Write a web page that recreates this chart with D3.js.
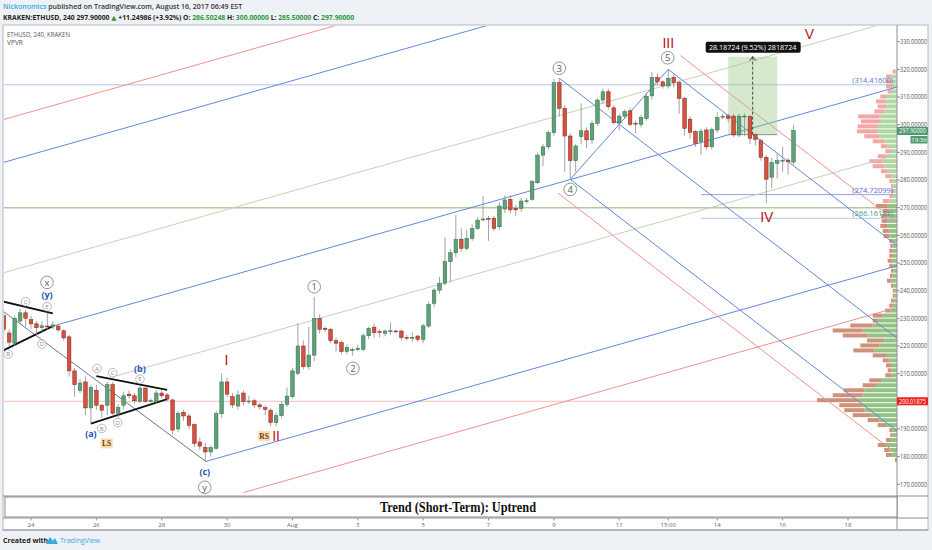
<!DOCTYPE html>
<html>
<head>
<meta charset="utf-8">
<script src="https://cdn.jsdelivr.net/npm/d3@7"></script>
<style>
  body { margin: 0; background: #eef1f5; }
</style>
</head>
<body>
<script>
// 4h candles, first one starts Jul 23 04:00
var candleStart = Date.UTC(2017, 6, 23, 4);
var H4 = 4 * 3600 * 1000;

var opens  = [231,224.7,221,229,232,229.5,228,226.6,227.2,226.9,227.2,225.5,223.3,211,204,207,197.6,204,198.6,198.6,206,195.7,198.6,202.6,202,200,204.8,200.2,200,203,202.3,200.5,190,196,194.7,191.6,185.3,183.3,181.7,183,195.5,207,201.7,198.3,203,200,200.2,198.7,197.7,196.8,192.3,194.8,198.9,201.7,210.1,220,212.5,216.7,230,226.4,226,221.9,221.2,218,218.6,218.7,218.8,223.7,226.8,225.2,224.6,225.4,225.4,225.4,223.1,223,223.6,222.4,227.2,235.4,240.2,242.7,250.5,253.7,258.6,255.3,258.9,262.5,265.8,266.1,266.2,263.1,269.5,273,269.8,269.8,272.4,273,279,289,292,297.1,315.2,305.9,295.9,287,295.7,297.8,294.5,300.5,308.9,311.9,306.1,300.7,303.1,305,300.5,300.1,302.3,310.4,317.1,315.5,314,317.1,315.2,309.5,302,297.5,293.9,298.1,292,298.1,302.9,303.2,303.1,296.3,303,302.9,296.3,294.2,288.2,281,286,287,287.2,286.5];
var highs  = [232.5,226,231,233.5,233,231,229,229,232,229,228,226,224,212,208,209,206,206,199,207,207,199,203.5,204,203,205.5,205,201,204,204,203,201,196.5,197,195.5,192,187,185,184,196.5,210.2,208.5,203,204,204,202,201,199.5,198.5,197.5,196,200,205,212,228.2,222,227,237.8,231.5,227,226.5,223,222,220.5,219.5,220.5,224.5,227,228,226,226,228.5,226,226,224,225,224,228,236,241,245,259.3,255,267.3,262.5,262,264,266.5,274.2,267,267,272,274.5,274.5,271,273.5,273.5,280,290,293,298,316.5,316.8,307,297,293,307.7,299,301.5,309.5,313,313,307,304,305.5,306,301.5,303.5,311.5,319,318.5,316,320,318.5,316,310,303,298,298.5,299,299,304.5,304,304,304,304,304,303.5,297,295,289,288,289.5,292,288,300];
var lows   = [224,220,220,228,227,226,224,225,226,226,225,222,208.9,201.7,203,195,192,197,194,195,195,194,197,201,199,199.5,199.5,199.5,199,201,200,188,189,193,190,183.5,182.5,178.4,180,182.5,194,201.5,197.5,197,198.5,199,197.5,197,195,191,191,194,198,201,209.5,211.5,211.5,214.5,224.5,225,221,218,217,217,216.5,218,218,222.5,223,223,223.5,224,224.5,222,222,221.5,221.5,221,226.5,234,239,242,243,252,254,254.5,258,262,265,258,261.5,262,268,268,267,268.5,271.5,272.5,278.5,285,291,296,303,283,280.5,283,293,291.5,293,299.5,307.5,305.5,300,298,302,299.5,297,299,301.5,309,314,313,313,313.5,304,296,295,292,289,291,291,297,302,301,295.5,295.5,296,293,292.5,287,271.6,277,280.5,283,282,285.5];
var closes = [226,221.4,230,232,230,228,226.6,227.3,227,227.6,225.8,222.9,211,206,206.6,197.6,205,198.6,196.8,206,195.7,197.8,202,202,200.2,204.8,200,200.3,203,202,200.8,189.6,195.7,194.7,191.3,184.8,183.8,181.7,183.3,195.6,207,202.6,198.7,202.3,199.9,200.1,198.7,198,197.1,192.3,194.8,198.9,201.9,211,220,212.5,216.7,230,226,226,221.9,221,218,219.5,218.7,219.2,223.7,226.4,224.8,225.1,225.4,225.5,225.3,223,223,223.1,222.4,227.3,235,240.2,242.7,250.5,253.7,258.6,255.3,258.9,262.5,265.5,265.9,265.9,262.5,270.6,272.8,269.2,269.2,272.4,272.5,279.4,289,292,297.1,315.2,305.9,295.9,287,292.3,297.8,294.5,300.5,308.9,311.9,306.5,300.7,303.1,304.7,300.1,300.4,302.6,310.3,317.1,315.5,314,316.8,315.2,309.5,298.7,297.2,293.3,297.7,292,298.3,302.6,303,302.3,296.3,303.1,303.1,295.1,294.7,288.2,280.3,286.3,287,287.1,286.6,297.9];

// axes
var priceTicks = [170,180,190,200,210,220,230,240,250,260,270,280,290,300,310,320,330];
var timeTicks = [Date.UTC(2017,6,24), Date.UTC(2017,6,26), Date.UTC(2017,6,28), Date.UTC(2017,6,30),
                 Date.UTC(2017,7,1), Date.UTC(2017,7,3), Date.UTC(2017,7,5), Date.UTC(2017,7,7),
                 Date.UTC(2017,7,9), Date.UTC(2017,7,11), Date.UTC(2017,7,12,12), Date.UTC(2017,7,14),
                 Date.UTC(2017,7,16), Date.UTC(2017,7,18)];
var timeLabels = ["24","26","28","30","Aug","3","5","7","9","11","15:00","14","16","18"];

// volume profile (VPVR), rows of 1.8 from 177.9
var vpLow = 177.9, vpRow = 1.8;
var vpUp   = [1,6,7.7,11,6,4.3,4.3,11,17.7,26,32.7,34.3,39.3,34.3,32.7,21,16,6,5.3,6,7.7,11,22.7,17.7,12.7,29.3,34.3,24.3,19.3,14.3,6.7,4.3,3.3,2.7,2.7,3.3,5.3,4.3,3.3,4.3,4.3,4.3,4.3,4.3,4.3,7.7,7.7,9.3,9.3,9.3,7.7,9.3,7.7,4.3,3.3,3.3,4.3,6,9.3,12.7,14.3,11,6,9.3,12.7,17.7,19.3,19.3,16,17.7,12.7,11,12,11,5,5,5.3,6,1.5];
var vpDown = [1,5,5,8.3,5,2.4,3.4,8.3,11.6,18.3,20,23.4,40.7,30,20.6,13.3,11.7,5.7,4,5,6.6,13.3,21,19,17.3,25,30,22.4,5,10,5,3.4,2.7,1.6,1.6,2.7,4.7,2.7,2.7,3.4,5,3.4,3.4,2.4,3.4,5.6,6.6,7.4,6,6.7,6.6,11.7,6.6,3.4,2.7,2.7,3.4,5.7,6.7,11.6,13.4,8.3,5.7,6.7,11.6,15,20.7,20,20,21,10,8.3,9,5.7,4.3,6,5.7,5,2.8];
var vpValueAreaTop = 273;

// ascending pitchfork: median anchor points [candle index, price] and level offsets
var upMedian = [[9, 227.2], [150, 305.8]];
var upLevels  = [79.7, 64.2, 24.3, 0, -24.5, -64.6, -79.7];
var upStarts  = [-3, -3, -3, 9, 20, 37, 44];
var upColors  = ["#f29090", "#6088da", "#c6d2b8", "#6088da", "#c6d2b8", "#6088da", "#f29090"];

// descending pitchfork from waves 3, 4, 5
var fork3 = [102, 316.8], fork4 = [104, 280.25], fork5 = [122, 320];

// trend lines [[index, price], [index, price]]
var blackLines = [
  [[0, 236.0], [9, 231.8]], [[0, 218.5], [9, 227.2]],
  [[17, 209.1], [30, 204.1]], [[16, 191.9], [30, 200.8]]
];
var grayLine = [[0, 232.4], [37, 178.4]];

// horizontal levels
var hLevels = [
  {p: 314.416, from: -3, color: "#b7c0ee", w: 1, label: "(314.41600)", lc: "#5a74d0"},
  {p: 270.0, from: -3, color: "#b9c6a2", w: 1.6},
  {p: 200.01875, from: -3, color: "#f7bcbc", w: 1},
  {p: 274.72099, from: 128, color: "#95a3f0", w: 1, label: "(274.72099)", lc: "#5a62d8"},
  {p: 266.16188, from: 128, color: "#b4cde0", w: 1, label: "(266.16188)", lc: "#3c9aa4"}
];

// measure tool
var measure = {from: 133, to: 142, low: 296.4, high: 324.6, text: "28.18724 (9.52%) 2818724"};

// wave labels [index, price, text, style]
var waveLabels = [
  [7.94, 243.0, "x", "circ"], [7.94, 238.6, "(y)", "blue"], [4.0, 236.0, "C", "small"],
  [7.94, 234.2, "E", "small"], [0.8, 217.1, "B", "small"], [7.0, 220.7, "D", "small"],
  [17.1, 211.9, "A", "small"], [20.0, 210.3, "C", "small"], [25.0, 211.6, "(b)", "blue"],
  [25.0, 208.0, "E", "small"], [18.0, 190.2, "B", "small"], [20.9, 192.3, "D", "small"],
  [16.0, 188.2, "(a)", "blue"], [36.9, 174.5, "(c)", "blue"], [36.9, 168.9, "y", "circ"],
  [57.0, 241.4, "1", "circ"], [64.1, 211.9, "2", "circ"], [102.0, 320.4, "3", "circ"],
  [104.0, 276.6, "4", "circ"], [121.9, 324.2, "5", "circ"],
  [40.9, 214.9, "I", "red"], [50.0, 187.5, "II", "red"], [122.0, 329.6, "III", "red"],
  [140.1, 266.7, "IV", "red"], [147.9, 332.8, "V", "red"],
  [18.9, 184.8, "LS", "box"], [47.8, 187.5, "RS", "box"]
];

var W = 932, Hh = 550;
var plotL = 4, plotR = 897, plotT = 26, plotB = 496;
var sans = "'Open Sans', 'DejaVu Sans', sans-serif";

var svg = d3.select("body").append("svg").attr("width", W).attr("height", Hh)
  .attr("font-family", sans);
svg.append("rect").attr("width", W).attr("height", Hh).attr("fill", "#eef1f5");

// frame
svg.append("rect").attr("x", 3).attr("y", 25).attr("width", 925).attr("height", 505)
  .attr("fill", "#fff").attr("stroke", "#b4b8bf");

var x = d3.scaleUtc()
  .domain([new Date(Date.UTC(2017, 6, 24)), new Date(Date.UTC(2017, 7, 18))])
  .range([31, 848]);
var y = d3.scaleLinear().domain([170, 330]).range([484.3, 41.7]);
var tOf = function(i) { return new Date(candleStart + i * H4); };
var X = function(i) { return x(tOf(i)); };

svg.append("defs").append("clipPath").attr("id", "plotclip")
  .append("rect").attr("x", plotL).attr("y", plotT).attr("width", plotR - plotL).attr("height", plotB - plotT);

var plot = svg.append("g").attr("clip-path", "url(#plotclip)");
var line = d3.line().x(function(d) { return X(d[0]); }).y(function(d) { return y(d[1]); });

// horizontal levels
hLevels.forEach(function(h) {
  plot.append("path").attr("d", line([[h.from, h.p], [170, h.p]]))
    .attr("stroke", h.color).attr("stroke-width", h.w).attr("fill", "none");
});

// volume profile
var vx = d3.scaleLinear().domain([0, 80]).range([0, 80]);
vpUp.forEach(function(u, k) {
  var lo = vpLow + k * vpRow, hi = lo + vpRow;
  var inVA = hi <= vpValueAreaTop;
  var y0 = y(hi) + 0.5, hgt = y(lo) - y(hi) - 1;
  plot.append("rect").attr("x", plotR - vx(u)).attr("y", y0).attr("width", vx(u)).attr("height", hgt)
    .attr("fill", inVA ? "#88bb77" : "#a9d399").attr("opacity", 0.9);
  plot.append("rect").attr("x", plotR - vx(u) - vx(vpDown[k])).attr("y", y0).attr("width", vx(vpDown[k])).attr("height", hgt)
    .attr("fill", inVA ? "#c8866a" : "#f29c9c").attr("opacity", 0.9);
});

// ascending pitchfork
var upSlope = (upMedian[1][1] - upMedian[0][1]) / (upMedian[1][0] - upMedian[0][0]);
upLevels.forEach(function(off, k) {
  var a = upStarts[k], b = 175;
  var pA = upMedian[0][1] + (a - upMedian[0][0]) * upSlope + off;
  var pB = upMedian[0][1] + (b - upMedian[0][0]) * upSlope + off;
  plot.append("path").attr("d", line([[a, pA], [b, pB]]))
    .attr("stroke", upColors[k]).attr("stroke-width", 1).attr("fill", "none");
});

// descending pitchfork
var midI = (fork4[0] + fork5[0]) / 2, midP = (fork4[1] + fork5[1]) / 2;
var dnSlope = (midP - fork3[1]) / (midI - fork3[0]);
var dnLevels = [{l: 0, c: "#6088da"}, {l: 1, c: "#6088da"}, {l: -1, c: "#6088da"}, {l: 1.25, c: "#f29090"}, {l: -1.25, c: "#f29090"}];
dnLevels.forEach(function(lv) {
  var s, i0, p0;
  if (lv.l === 0) { i0 = fork3[0]; p0 = fork3[1]; }
  else {
    s = (lv.l + 1) / 2;
    i0 = fork4[0] + s * (fork5[0] - fork4[0]);
    p0 = fork4[1] + s * (fork5[1] - fork4[1]);
  }
  plot.append("path").attr("d", line([[i0, p0], [175, p0 + (175 - i0) * dnSlope]]))
    .attr("stroke", lv.c).attr("stroke-width", 1).attr("fill", "none");
});
plot.append("path").attr("d", line([fork4, fork5])).attr("stroke", "#6088da").attr("stroke-width", 1).attr("fill", "none");

// trend lines
plot.append("path").attr("d", line(grayLine)).attr("stroke", "#6f7880").attr("stroke-width", 1).attr("fill", "none");
blackLines.forEach(function(l) {
  plot.append("path").attr("d", line(l)).attr("stroke", "#111").attr("stroke-width", 1.8).attr("fill", "none");
});

// measure tool
plot.append("rect").attr("x", X(measure.from)).attr("y", y(measure.high))
  .attr("width", X(measure.to) - X(measure.from)).attr("height", y(measure.low) - y(measure.high))
  .attr("fill", "#9cc97f").attr("opacity", 0.4);
plot.append("path").attr("d", line([[measure.from, measure.low], [measure.to, measure.low]]))
  .attr("stroke", "#8a8f8a").attr("fill", "none");
var mx = X((measure.from + measure.to) / 2);
plot.append("line").attr("x1", mx).attr("x2", mx).attr("y1", y(measure.low)).attr("y2", y(measure.high))
  .attr("stroke", "#444").attr("stroke-dasharray", "3,2");
plot.append("path").attr("d", "M" + (mx - 3) + "," + (y(measure.high) + 4) + "L" + mx + "," + y(measure.high) + "L" + (mx + 3) + "," + (y(measure.high) + 4))
  .attr("stroke", "#444").attr("fill", "none");
plot.append("rect").attr("x", mx - 47).attr("y", y(measure.high) - 15).attr("width", 95).attr("height", 11)
  .attr("rx", 2).attr("fill", "#111");
plot.append("text").attr("x", mx).attr("y", y(measure.high) - 7).attr("text-anchor", "middle")
  .attr("font-size", 7.2).attr("fill", "#fff").text(measure.text);

// candles
var cg = plot.append("g");
opens.forEach(function(o, i) {
  var up = closes[i] >= o, cx = X(i);
  cg.append("line").attr("x1", cx).attr("x2", cx).attr("y1", y(highs[i])).attr("y2", y(lows[i]))
    .attr("stroke", "#8a8c90").attr("stroke-width", 0.8);
  var yt = y(Math.max(o, closes[i])), yb = y(Math.min(o, closes[i]));
  cg.append("rect").attr("x", cx - 1.8).attr("y", yt).attr("width", 3.6).attr("height", Math.max(yb - yt, 0.8))
    .attr("fill", up ? "#5ea279" : "#d6513f").attr("stroke", up ? "#2f6b46" : "#7d2418").attr("stroke-width", 0.5);
});

// level labels
hLevels.forEach(function(h) {
  if (!h.label) return;
  plot.append("text").attr("x", 893).attr("y", y(h.p) - 2).attr("text-anchor", "end")
    .attr("font-size", 7.5).attr("fill", h.lc).text(h.label);
});

// wave labels
waveLabels.forEach(function(w) {
  var cx = X(w[0]), cy = y(w[1]);
  if (w[3] === "circ") {
    plot.append("circle").attr("cx", cx).attr("cy", cy).attr("r", 6.3).attr("fill", "#fff")
      .attr("fill-opacity", 0.6).attr("stroke", "#7d8c7a").attr("stroke-width", 0.9);
    plot.append("text").attr("x", cx).attr("y", cy + 3.4).attr("text-anchor", "middle")
      .attr("font-size", 9.5).attr("fill", "#55624f").text(w[2]);
  } else if (w[3] === "small") {
    plot.append("circle").attr("cx", cx).attr("cy", cy).attr("r", 4.3).attr("fill", "#fff")
      .attr("fill-opacity", 0.6).attr("stroke", "#9a9e98").attr("stroke-width", 0.7);
    plot.append("text").attr("x", cx).attr("y", cy + 2.2).attr("text-anchor", "middle")
      .attr("font-size", 6).attr("fill", "#8a8f88").text(w[2]);
  } else if (w[3] === "blue") {
    plot.append("text").attr("x", cx).attr("y", cy + 3.2).attr("text-anchor", "middle")
      .attr("font-size", 9).attr("font-weight", "bold").attr("fill", "#2456b0").text(w[2]);
  } else if (w[3] === "red") {
    plot.append("text").attr("x", cx).attr("y", cy + 5).attr("text-anchor", "middle")
      .attr("font-family", "'Liberation Sans', Arial, sans-serif")
      .attr("font-size", 14).attr("fill", "#b3141c").text(w[2]);
  } else {
    plot.append("rect").attr("x", cx - 6).attr("y", cy - 5).attr("width", 12).attr("height", 10).attr("fill", "#fbdcb0");
    plot.append("text").attr("x", cx).attr("y", cy + 2.8).attr("text-anchor", "middle")
      .attr("font-family", "'Liberation Serif', serif").attr("font-weight", "bold")
      .attr("font-size", 7.5).attr("fill", "#6a3a10").text(w[2]);
  }
});

// legend
svg.append("text").attr("x", 7).attr("y", 37).attr("font-size", 6.6).attr("fill", "#555")
  .attr("textLength", 63).attr("lengthAdjust", "spacingAndGlyphs").text("ETHUSD, 240, KRAKEN");
svg.append("text").attr("x", 7).attr("y", 45).attr("font-size", 6.6).attr("fill", "#555").text("VPVR");

// price axis
svg.append("line").attr("x1", plotR).attr("x2", plotR).attr("y1", 25).attr("y2", 530).attr("stroke", "#8c9096");
priceTicks.forEach(function(p) {
  svg.append("line").attr("x1", plotR).attr("x2", plotR + 3).attr("y1", y(p)).attr("y2", y(p)).attr("stroke", "#8c9096");
  svg.append("text").attr("x", 900).attr("y", y(p) + 2.3).attr("font-size", 6.5).attr("fill", "#555")
    .attr("textLength", 27).attr("lengthAdjust", "spacingAndGlyphs").text(p.toFixed(5));
});
// last price and red level tags
var last = closes[closes.length - 1];
svg.append("rect").attr("x", plotR).attr("y", y(last) - 3.5).attr("width", 31).attr("height", 8).attr("fill", "#4f9a70");
svg.append("text").attr("x", 899).attr("y", y(last) + 2.9).attr("font-size", 6.5).attr("fill", "#fff")
  .attr("textLength", 27).attr("lengthAdjust", "spacingAndGlyphs").text(last.toFixed(5));
svg.append("rect").attr("x", 910.5).attr("y", y(last) + 5.5).attr("width", 17).attr("height", 7.5).attr("fill", "#4f9a70");
svg.append("text").attr("x", 919).attr("y", y(last) + 11.5).attr("text-anchor", "middle").attr("font-size", 6)
  .attr("fill", "#fff").text("19:36");
svg.append("rect").attr("x", plotR).attr("y", y(200.01875) - 4).attr("width", 31).attr("height", 8).attr("fill", "#f31d1d");
svg.append("text").attr("x", 899).attr("y", y(200.01875) + 2.4).attr("font-size", 6.5).attr("fill", "#fff")
  .attr("textLength", 27).attr("lengthAdjust", "spacingAndGlyphs").text("200.01875");

// trend pane
svg.append("line").attr("x1", 3).attr("x2", 928).attr("y1", 496).attr("y2", 496).attr("stroke", "#8c9096");
svg.append("rect").attr("x", 5).attr("y", 497).attr("width", plotR - 5).attr("height", 20)
  .attr("fill", "#fff").attr("stroke", "#6d7176").attr("stroke-width", 0.8);
svg.append("text").attr("x", 458).attr("y", 511.5).attr("text-anchor", "middle")
  .attr("font-family", "'Liberation Serif', 'DejaVu Serif', serif").attr("font-weight", "bold").attr("font-size", 15)
  .attr("fill", "#111").attr("textLength", 156).attr("lengthAdjust", "spacingAndGlyphs")
  .text("Trend (Short-Term): Uptrend");

// time axis
svg.append("line").attr("x1", 3).attr("x2", 928).attr("y1", 518).attr("y2", 518).attr("stroke", "#8c9096");
timeTicks.forEach(function(t, k) {
  var tx = x(new Date(t));
  svg.append("line").attr("x1", tx).attr("x2", tx).attr("y1", 518).attr("y2", 520.5).attr("stroke", "#8c9096");
  svg.append("text").attr("x", tx).attr("y", 527).attr("text-anchor", "middle").attr("font-size", 6)
    .attr("fill", "#666").text(timeLabels[k]);
});
svg.append("line").attr("x1", 3).attr("x2", 928).attr("y1", 530).attr("y2", 530).attr("stroke", "#a6aab0").attr("stroke-width", 1.5);

// header
var h1 = svg.append("text").attr("x", 3).attr("y", 9).attr("font-size", 7).attr("font-weight", 600)
  .attr("fill", "#333");
h1.append("tspan").attr("fill", "#3aa9de").text("Nickonomics");
h1.append("tspan").text(" published on TradingView.com, August 16, 2017 06:49 EST");
var h2 = svg.append("text").attr("x", 3).attr("y", 19.5).attr("font-size", 6.8).attr("font-weight", 700)
  .attr("fill", "#222");
[["KRAKEN:ETHUSD, 240  297.90000 ", "#222"], ["\u25B2", "#2a9a3a"], [" +11.24986 (+3.92%) O: ", "#222"],
 ["286.50248", "#2a9a3a"], [" H: ", "#222"], ["300.00000", "#2a9a3a"], [" L: ", "#222"],
 ["285.50000", "#2a9a3a"], [" C: ", "#222"], ["297.90000", "#2a9a3a"]].forEach(function(s) {
  h2.append("tspan").attr("fill", s[1]).text(s[0]);
});

// footer
svg.append("text").attr("x", 3).attr("y", 543).attr("font-size", 7).attr("font-weight", 700).attr("fill", "#222")
  .text("Created with");
svg.append("path").attr("d", "M46,544 L50,537 L53,541 L55,538 L58,544 Z").attr("fill", "#3aa9de");
svg.append("text").attr("x", 60).attr("y", 543).attr("font-size", 7).attr("fill", "#3aa9de")
  .text("TradingView");
</script>
</body>
</html>
